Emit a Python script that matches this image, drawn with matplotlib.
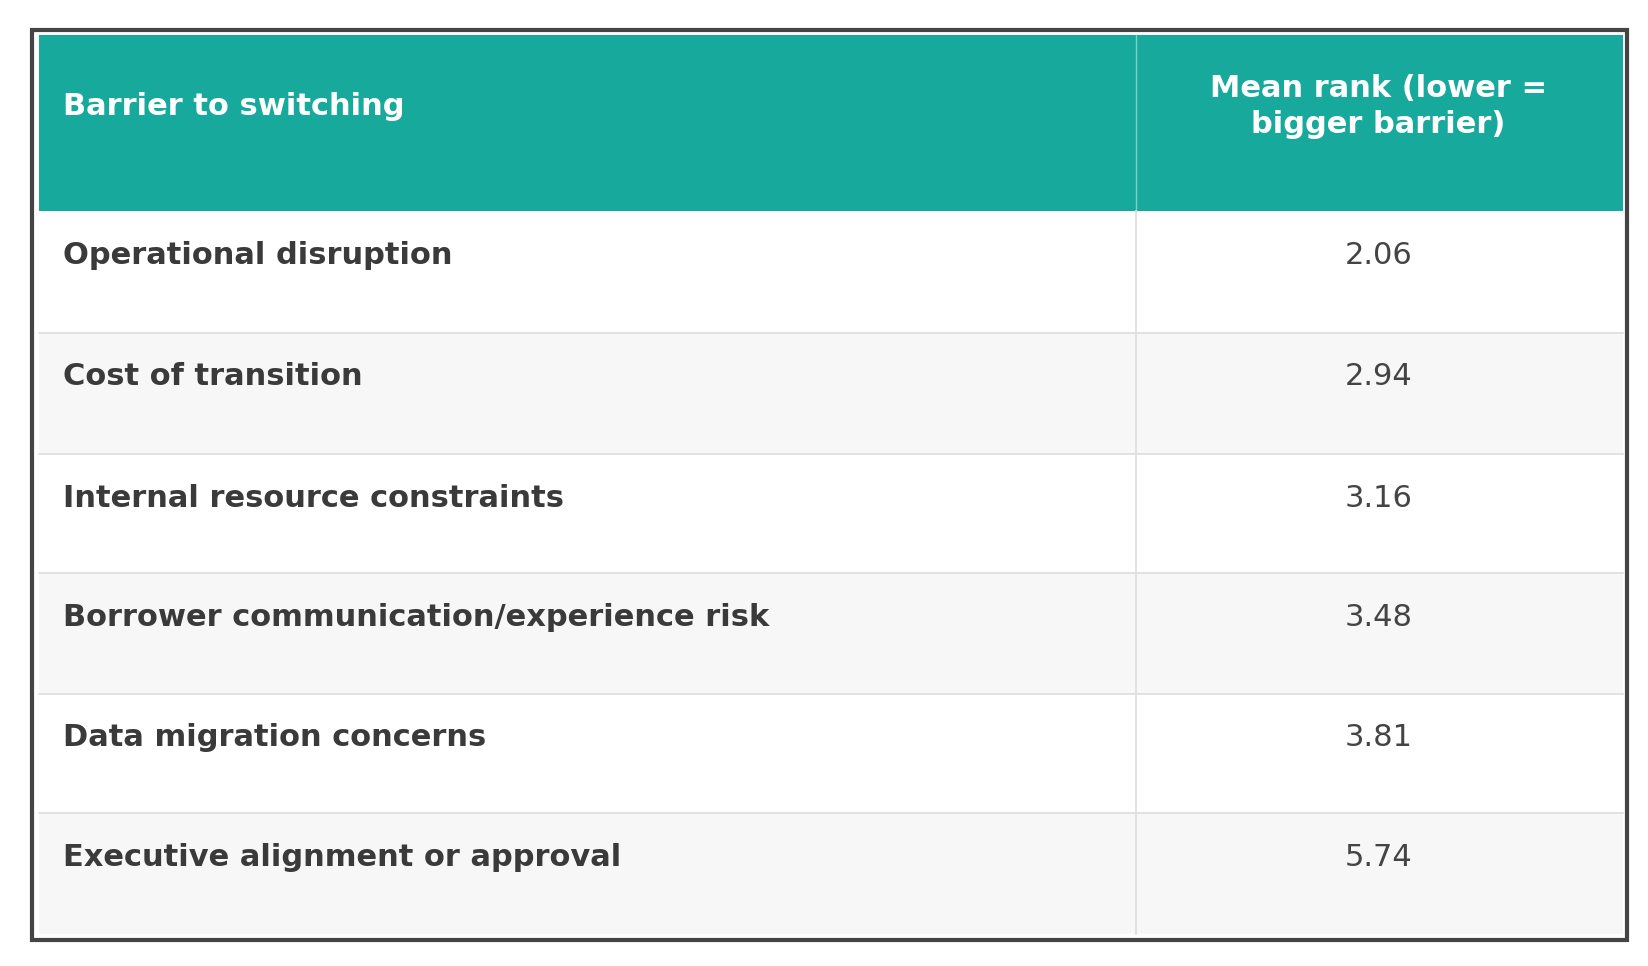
import matplotlib
matplotlib.use("Agg")
import matplotlib.pyplot as plt
from matplotlib.patches import Rectangle

header = ["Barrier to switching", "Mean rank (lower =\nbigger barrier)"]
barriers = ["Operational disruption", "Cost of transition", "Internal resource constraints",
            "Borrower communication/experience risk", "Data migration concerns",
            "Executive alignment or approval"]
mean_rank = [2.06, 2.94, 3.16, 3.48, 3.81, 5.74]

plt.rcParams['font.family'] = ['DejaVu Sans']
fig = plt.figure(figsize=(16.48, 9.66), dpi=100)
ax = fig.add_axes([0, 0, 1, 1])
W, H = 1560, 915
ax.set_xlim(0, W); ax.set_ylim(H, 0); ax.axis('off')

L, R, D = 37, 1536, 1075
top, hb = 33, 200
rows = [200, 315, 430, 543, 657, 770, 885]
teal = "#17A99C"
ax.add_patch(Rectangle((L, top), R - L, hb - top, color=teal, lw=0))
ax.plot([D, D], [top, hb], color="#7fd0c8", lw=1)
fs = 22
ax.text(60, 101, header[0], color="white", fontsize=fs, fontweight="bold", va="center")
ax.text(1305, 101, header[1], color="white", fontsize=fs, fontweight="bold", va="center",
        ha="center", linespacing=1.3)
for i, (b, v) in enumerate(zip(barriers, mean_rank)):
    y0, y1 = rows[i], rows[i + 1]
    ax.add_patch(Rectangle((L, y0), R - L, y1 - y0, color="white" if i % 2 == 0 else "#F7F7F7", lw=0))
    if i > 0:
        ax.plot([L, R], [y0, y0], color="#DDDDDD", lw=1.2)
    ax.plot([D, D], [y0, y1], color="#DDDDDD", lw=1.2)
    ax.text(60, y0 + 42, b, color="#3a3a3a", fontsize=fs, fontweight="bold", va="center")
    ax.text(1305, y0 + 42, f"{v:.2f}", color="#444444", fontsize=fs, va="center", ha="center")
ax.add_patch(Rectangle((30, 28), 1510, 862, fill=False, ec="#444444", lw=3))
fig.savefig("out.png", dpi=100)
